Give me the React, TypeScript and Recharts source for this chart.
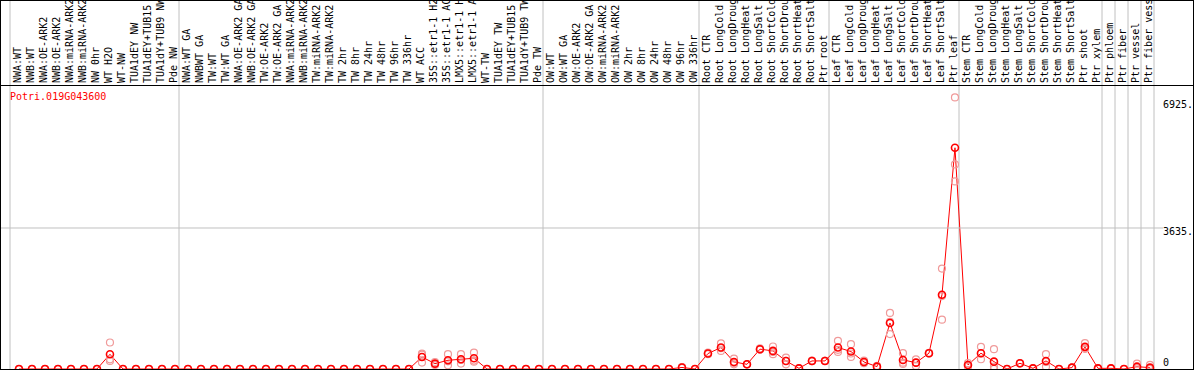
import { ComposedChart, Line, Scatter, XAxis, YAxis, ReferenceLine } from 'recharts'

// Expression profile for one gene across 88 poplar samples.
// Each sample has a mean (red, joined) and three replicates (pink rings).

const GENE = 'Potri.019G043600'

const SAMPLES = [
  'NWA:WT', 'NWB:WT', 'NWA:OE-ARK2', 'NWB:OE-ARK2', 'NWA:miRNA-ARK2', 'NWB:miRNA-ARK2',
  'NW 0hr', 'WT H2O', 'WT-NW', 'TUA1dEY NW', 'TUA1dEY+TUB15 NW', 'TUA1dY+TUB9 NW', 'Pde NW',
  'NWA:WT GA', 'NWBWT GA', 'TW:WT', 'TW:WT GA', 'NWA:OE-ARK2 GA', 'NWB:OE-ARK2 GA',
  'TW:OE-ARK2', 'TW:OE-ARK2 GA', 'NWA:miRNA-ARK2 GA', 'NWB:miRNA-ARK2 GA', 'TW:miRNA-ARK2',
  'TW:miRNA-ARK2 GA', 'TW 2hr', 'TW 8hr', 'TW 24hr', 'TW 48hr', 'TW 96hr', 'TW 336hr',
  'WT ACC', '35S::etr1-1 H2O', '35S::etr1-1 ACC', 'LMX5::etr1-1 H2O', 'LMX5::etr1-1 ACC',
  'WT-TW', 'TUA1dEY TW', 'TUA1dEY+TUB15 TW', 'TUA1dY+TUB9 TW', 'Pde TW',
  'OW:WT', 'OW:WT GA', 'OW:OE-ARK2', 'OW:OE-ARK2 GA', 'OW:miRNA-ARK2', 'OW:miRNA-ARK2 GA',
  'OW 2hr', 'OW 8hr', 'OW 24hr', 'OW 48hr', 'OW 96hr', 'OW 336hr',
  'Root CTR', 'Root LongCold', 'Root LongDrought', 'Root LongHeat', 'Root LongSalt',
  'Root ShortCold', 'Root ShortDrought', 'Root ShortHeat', 'Root ShortSalt', 'Ptr root',
  'Leaf CTR', 'Leaf LongCold', 'Leaf LongDrought', 'Leaf LongHeat', 'Leaf LongSalt',
  'Leaf ShortCold', 'Leaf ShortDrought', 'Leaf ShortHeat', 'Leaf ShortSalt', 'Ptr leaf',
  'Stem CTR', 'Stem LongCold', 'Stem LongDrought', 'Stem LongHeat', 'Stem LongSalt',
  'Stem ShortCold', 'Stem ShortDrought', 'Stem ShortHeat', 'Stem ShortSalt', 'Ptr shoot',
  'Ptr xylem', 'Ptr phloem', 'Ptr fiber', 'Ptr vessel', 'Ptr fiber vessel',
]

const MEAN = [
  0, 0, 0, 0, 0, 0, 0, 380, 0, 0,
  0, 0, 0, 0, 0, 0, 0, 0, 0, 0,
  0, 0, 0, 0, 0, 0, 0, 0, 0, 0,
  0, 311, 138, 225, 251, 277, 0, 0, 0, 0,
  0, 0, 0, 0, 0, 0, 0, 0, 0, 0,
  0, 40, 0, 398, 554, 182, 121, 511, 467, 208,
  17, 208, 208, 554, 450, 182, 61, 1186, 234, 164,
  407, 1913, 5703, 104, 407, 190, 0, 147, 17, 208,
  0, 35, 571, 17, 17, 0, 60, 35,
]

const REP_A = [
  0, 0, 0, 0, 0, 0, 0, 683, 0, 0,
  0, 0, 0, 0, 0, 0, 0, 0, 0, 0,
  0, 0, 0, 0, 0, 0, 0, 0, 0, 0,
  0, 398, 180, 381, 381, 424, 0, 0, 0, 0,
  0, 0, 0, 0, 0, 0, 0, 0, 0, 0,
  0, 50, 0, 420, 658, 268, 121, 530, 580, 294,
  17, 215, 208, 727, 640, 182, 61, 1445, 407, 250,
  407, 2588, 7000, 150, 571, 511, 0, 147, 17, 381,
  0, 35, 666, 17, 17, 0, 138, 104,
]

const REP_B = [
  0, 0, 0, 0, 0, 0, 0, 208, 0, 0,
  0, 0, 0, 0, 0, 0, 0, 0, 0, 0,
  0, 0, 0, 0, 0, 0, 0, 0, 0, 0,
  0, 165, 100, 95, 140, 190, 0, 0, 0, 0,
  0, 0, 0, 0, 0, 0, 0, 0, 0, 0,
  0, 30, 0, 380, 467, 121, 121, 500, 381, 121,
  17, 200, 208, 441, 311, 150, 40, 900, 164, 78,
  400, 1272, 4836, 60, 251, 0, 0, 147, 17, 60,
  0, 35, 520, 17, 17, 0, 20, 0,
]

const REP_C = [
  0, 0, 0, 0, 0, 0, 0, 249, 0, 0,
  0, 0, 0, 0, 0, 0, 0, 0, 0, 0,
  0, 0, 0, 0, 0, 0, 0, 0, 0, 0,
  0, 370, 134, 199, 232, 217, 0, 0, 0, 0,
  0, 0, 0, 0, 0, 0, 0, 0, 0, 0,
  0, 40, 0, 394, 537, 157, 121, 503, 440, 209,
  17, 209, 208, 494, 399, 214, 82, 1213, 131, 164,
  414, 1879, 5273, 102, 399, 59, 0, 147, 17, 183,
  0, 35, 527, 17, 17, 0, 22, 1,
]

// sample index where each tissue/experiment block starts (last = end)
const GROUP_EDGES = [0, 13, 41, 53, 63, 73, 84, 85, 86, 87, 88]
const Y_TICKS = [0, 3635, 6925]
const Y_GRID = 3635
const Y_MAX = 7321

const W = 1194
const H = 370
const HEADER = 85
const SHIFT = 0.69 // marks sit a little right of the column middle
const LABEL_X = 1163
const FONT = '"DejaVu Sans Mono", monospace'
const GRID = '#c0c0c0'
const RED = '#ff0000'
const PINK = '#f09a9a'

const rows = MEAN.map((v, i) => ({ x: i + SHIFT, mean: v }))
const reps = [REP_A, REP_B, REP_C].flatMap((arr) => arr.map((v, i) => ({ x: i + SHIFT, y: v })))
const headerTicks = [...GROUP_EDGES, ...SAMPLES.map((_, i) => i + SHIFT)].sort((a, b) => a - b)

function HeaderTick({ x, payload }: any) {
  const v = payload.value as number
  if (Number.isInteger(v)) {
    return <line x1={x} x2={x} y1={0} y2={HEADER} stroke={GRID} />
  }
  const tx = x + 2.5
  const ty = HEADER - 2
  return (
    <text x={tx} y={ty} transform={`rotate(-90 ${tx} ${ty})`} fontFamily={FONT} fontSize={10} fill="#000">
      {SAMPLES[Math.floor(v)]}
    </text>
  )
}

// value labels sit under their level; the zero label is lifted to stay inside
function ValueTick({ y, payload }: any) {
  const v = payload.value as number
  return (
    <g>
      {v === Y_GRID && <line x1={0} x2={LABEL_X} y1={y} y2={y} stroke={GRID} />}
      <text x={LABEL_X} y={v === 0 ? y - 3.5 : y + 7.5} fontFamily={FONT} fontSize={10} fill="#000">
        {v === 0 ? '0' : `${v}.`}
      </text>
    </g>
  )
}

function Ring({ cx, cy, color, width }: any) {
  if (cx == null || cy == null) return null
  return <circle cx={cx} cy={cy} r={3.5} fill="none" stroke={color} strokeWidth={width} />
}

export default function App() {
  return (
    <div style={{ position: 'relative', width: W, height: H, background: '#fff' }}>
      <style>{'body{margin:0}'}</style>
      <ComposedChart width={W} height={H} data={rows} margin={{ top: 0, right: 2, bottom: 1, left: 10 }}>
        <XAxis
          type="number"
          dataKey="x"
          orientation="top"
          domain={[0, SAMPLES.length]}
          ticks={headerTicks}
          interval={0}
          height={HEADER}
          axisLine={false}
          tickLine={false}
          tick={<HeaderTick />}
        />
        <YAxis
          orientation="right"
          domain={[0, Y_MAX]}
          ticks={Y_TICKS}
          interval={0}
          width={38}
          axisLine={false}
          tickLine={false}
          tick={<ValueTick />}
        />
        {GROUP_EDGES.map((e) => (
          <ReferenceLine key={e} x={e} stroke={GRID} />
        ))}
        <Scatter
          data={reps}
          dataKey="y"
          isAnimationActive={false}
          shape={(p: any) => <Ring cx={p.cx} cy={p.cy} color={PINK} width={1.2} />}
        />
        <Line
          dataKey="mean"
          stroke={RED}
          strokeWidth={1}
          isAnimationActive={false}
          dot={(p: any) => <Ring key={p.index} cx={p.cx} cy={p.cy} color={RED} width={1.6} />}
          activeDot={false}
        />
      </ComposedChart>
      <div
        style={{
          position: 'absolute', left: 10, top: 91, color: RED,
          fontFamily: FONT, fontSize: 10, lineHeight: '12px',
        }}
      >
        {GENE}
      </div>
      <div style={{ position: 'absolute', left: 0, top: HEADER, width: W, height: 1, background: '#000' }} />
      <div
        style={{
          position: 'absolute', left: 0, top: 0, width: W, height: H,
          boxSizing: 'border-box', border: '1px solid #000', pointerEvents: 'none',
        }}
      />
    </div>
  )
}
